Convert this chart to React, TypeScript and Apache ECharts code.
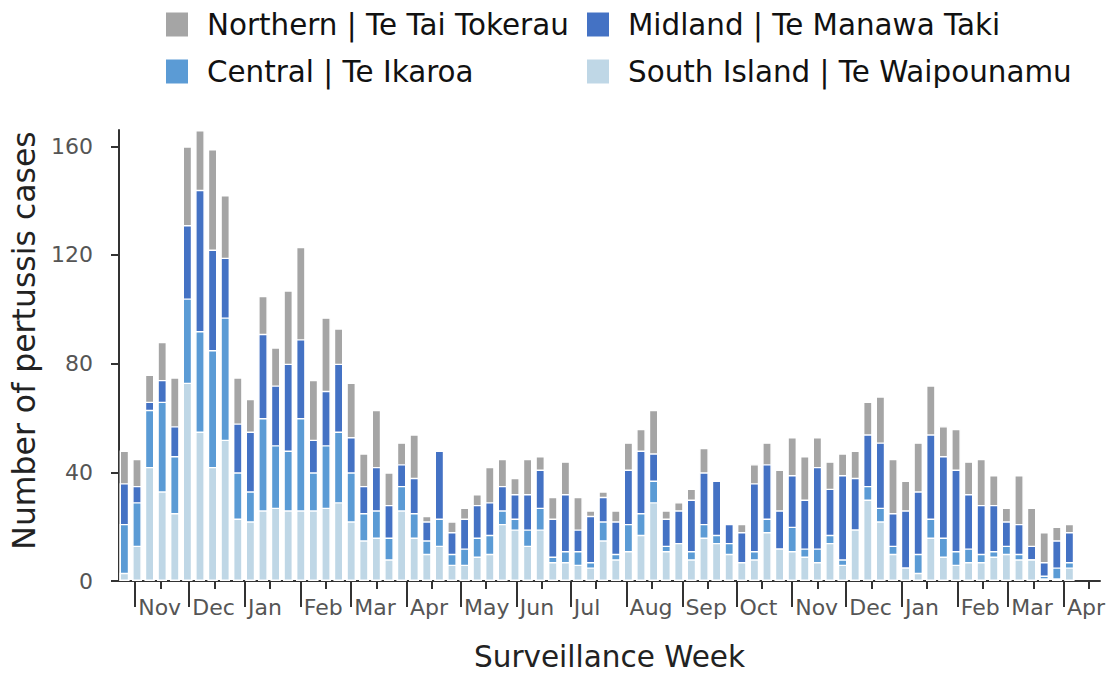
import React, { useEffect, useRef } from "react";
import * as echarts from "echarts";

// Weekly surveillance dates (bar centres)
const weeks: string[] = [
  "2024-10-26", "2024-11-02", "2024-11-09", "2024-11-16", "2024-11-23", "2024-11-30",
  "2024-12-07", "2024-12-14", "2024-12-21", "2024-12-28",
  "2025-01-04", "2025-01-11", "2025-01-18", "2025-01-25",
  "2025-02-01", "2025-02-08", "2025-02-15", "2025-02-22",
  "2025-03-01", "2025-03-08", "2025-03-15", "2025-03-22", "2025-03-29",
  "2025-04-05", "2025-04-12", "2025-04-19", "2025-04-26",
  "2025-05-03", "2025-05-10", "2025-05-17", "2025-05-24", "2025-05-31",
  "2025-06-07", "2025-06-14", "2025-06-21", "2025-06-28",
  "2025-07-05", "2025-07-12", "2025-07-19", "2025-07-26",
  "2025-08-02", "2025-08-09", "2025-08-16", "2025-08-23", "2025-08-30",
  "2025-09-06", "2025-09-13", "2025-09-20", "2025-09-27",
  "2025-10-04", "2025-10-11", "2025-10-18", "2025-10-25",
  "2025-11-01", "2025-11-08", "2025-11-15", "2025-11-22", "2025-11-29",
  "2025-12-06", "2025-12-13", "2025-12-20", "2025-12-27",
  "2026-01-03", "2026-01-10", "2026-01-17", "2026-01-24", "2026-01-31",
  "2026-02-07", "2026-02-14", "2026-02-21", "2026-02-28",
  "2026-03-07", "2026-03-14", "2026-03-21", "2026-03-28",
  "2026-04-04",
];

const southIsland: number[] = [
  3, 13, 42, 33, 25, 73, 55, 42, 52, 23, 22, 26, 27, 26, 26, 26, 27, 29, 22, 15,
  16, 8, 26, 16, 10, 13, 6, 6, 9, 10, 21, 19, 13, 19, 7, 7, 6, 5, 15, 8,
  11, 17, 29, 11, 14, 8, 16, 14, 10, 7, 8, 18, 12, 11, 9, 7, 14, 6, 19, 30,
  22, 10, 5, 3, 16, 9, 6, 7, 7, 9, 10, 8, 8, 1, 1, 5,
];
const central: number[] = [
  18, 16, 21, 33, 21, 31, 37, 43, 45, 17, 11, 34, 23, 22, 34, 14, 23, 26, 18, 10,
  10, 8, 9, 9, 5, 10, 4, 6, 7, 7, 5, 4, 6, 8, 2, 4, 5, 2, 7, 2,
  10, 8, 8, 2, 0, 3, 5, 3, 4, 0, 3, 5, 0, 9, 3, 5, 3, 2, 0, 5,
  5, 3, 0, 7, 7, 7, 5, 5, 3, 2, 3, 2, 0, 1, 4, 2,
];
const midland: number[] = [
  15, 6, 3, 8, 11, 27, 52, 37, 22, 18, 22, 31, 22, 32, 29, 12, 20, 25, 13, 10,
  16, 12, 8, 13, 7, 25, 8, 11, 12, 12, 9, 9, 13, 14, 14, 21, 8, 17, 9, 12,
  20, 23, 10, 10, 12, 19, 19, 20, 7, 11, 25, 20, 14, 19, 18, 30, 17, 31, 19, 19,
  24, 12, 21, 23, 31, 30, 30, 20, 18, 17, 9, 11, 5, 5, 10, 11,
];
const northern: number[] = [
  12, 10, 10, 14, 18, 29, 22, 37, 23, 17, 12, 14, 14, 27, 34, 22, 27, 13, 20, 12,
  21, 12, 8, 16, 2, 0, 4, 4, 4, 13, 10, 6, 13, 5, 8, 12, 12, 2, 2, 4,
  10, 8, 16, 3, 3, 4, 9, 0, 0, 3, 7, 8, 15, 14, 16, 11, 10, 8, 10, 12,
  17, 20, 11, 18, 18, 11, 15, 12, 17, 11, 5, 18, 14, 11, 5, 3,
];

const monthStarts: string[] = [
  "2024-11-01", "2024-12-01", "2025-01-01", "2025-02-01", "2025-03-01", "2025-04-01",
  "2025-05-01", "2025-06-01", "2025-07-01", "2025-08-01", "2025-09-01", "2025-10-01",
  "2025-11-01", "2025-12-01", "2026-01-01", "2026-02-01", "2026-03-01", "2026-04-01",
];
const midMonths: string[] = [
  "2024-11-15", "2024-12-15", "2025-01-15", "2025-02-15", "2025-03-15", "2025-04-15",
  "2025-05-15", "2025-06-15", "2025-07-15", "2025-08-15", "2025-09-15", "2025-10-15",
  "2025-11-15", "2025-12-15", "2026-01-15", "2026-02-15", "2026-03-15", "2026-04-15",
];
const monthNames: string[] = ["Jan", "Feb", "Mar", "Apr", "May", "Jun", "Jul", "Aug", "Sep", "Oct", "Nov", "Dec"];
const yTicks: number[] = [0, 40, 80, 120, 160];

const regionNames = {
  northern: "Northern | Te Tai Tokerau",
  midland: "Midland | Te Manawa Taki",
  central: "Central | Te Ikaroa",
  south: "South Island | Te Waipounamu",
};
const colors = {
  northern: "#a5a5a5",
  midland: "#4472c4",
  central: "#5b9bd5",
  south: "#bfd7e6",
};

function ts(s: string): number {
  const [y, m, d] = s.split("-").map(Number);
  return Date.UTC(y, m - 1, d);
}

const FONT = "DejaVu Sans";

export default function App() {
  const ref = useRef<HTMLDivElement>(null);

  useEffect(() => {
    if (!ref.current) return;
    const chart = echarts.init(ref.current, undefined, { renderer: "svg" });

    // Stack tops (segments drawn back-to-front so each segment shows between stack levels)
    const layers = [southIsland, central, midland, northern];
    const cumulative = (upTo: number) =>
      weeks.map((_, i) => {
        let s = 0;
        for (let k = 0; k <= upTo; k++) s += layers[k][i];
        return s;
      });

    const mk = (name: string, vals: number[], color: string) => ({
      name,
      type: "bar",
      xAxisIndex: 0,
      barWidth: 9.6,
      barGap: "-100%",
      data: vals.map((v, i) => [ts(weeks[i]), v]),
      itemStyle: { color, borderColor: "#ffffff", borderWidth: 1.4 },
      emphasis: { disabled: true },
    });

    const legendText = {
      fontFamily: FONT,
      fontSize: 29.4,
      color: "#111",
      lineHeight: 26,
      padding: [0, 0, 0, 13],
    };

    const xMin = ts("2024-10-23");
    const xMax = ts("2026-04-21");

    chart.setOption({
      animation: false,
      backgroundColor: "#ffffff",
      textStyle: { fontFamily: FONT },
      legend: [
        {
          orient: "vertical",
          left: 159,
          top: 5,
          itemWidth: 24,
          itemHeight: 26,
          itemGap: 18,
          icon: "rect",
          selectedMode: false,
          data: [regionNames.northern, regionNames.central],
          textStyle: legendText,
        },
        {
          orient: "vertical",
          left: 580,
          top: 5,
          itemWidth: 24,
          itemHeight: 26,
          itemGap: 18,
          icon: "rect",
          selectedMode: false,
          data: [regionNames.midland, regionNames.south],
          textStyle: legendText,
        },
      ],
      grid: { left: 119, right: 15, top: 130, bottom: 91.5, containLabel: false },
      xAxis: [
        {
          type: "value",
          min: xMin,
          max: xMax,
          name: "Surveillance Week",
          nameLocation: "middle",
          nameGap: 61,
          nameTextStyle: { fontFamily: FONT, fontSize: 29.5, color: "#222" },
          axisLine: { show: true, lineStyle: { color: "#333", width: 2 } },
          axisTick: {
            show: true,
            length: 26,
            lineStyle: { color: "#333", width: 2 },
            customValues: monthStarts.map(ts),
          },
          axisLabel: {
            show: true,
            customValues: monthStarts.map(ts),
            formatter: (v: number) => monthNames[new Date(v).getUTCMonth()],
            align: "left",
            verticalAlign: "middle",
            margin: 26,
            padding: [0, 0, 0, 3],
            fontFamily: FONT,
            fontSize: 22,
            color: "#555",
          },
          splitLine: { show: false },
        },
        {
          type: "value",
          min: xMin,
          max: xMax,
          position: "bottom",
          offset: 0,
          axisLine: { show: false },
          axisTick: {
            show: true,
            length: 8,
            lineStyle: { color: "#333", width: 2 },
            customValues: midMonths.map(ts),
          },
          axisLabel: { show: false },
          splitLine: { show: false },
        },
      ],
      yAxis: {
        type: "value",
        min: 0,
        max: 166,
        interval: 40,
        name: "Number of pertussis cases",
        nameLocation: "middle",
        nameGap: 70,
        nameTextStyle: { fontFamily: FONT, fontSize: 31.5, color: "#222", padding: [0, 0, 0, 30] },
        axisLine: { show: true, lineStyle: { color: "#333", width: 2 } },
        axisTick: {
          show: true,
          length: 8,
          lineStyle: { color: "#333", width: 2 },
          customValues: yTicks,
        },
        axisLabel: {
          customValues: yTicks,
          margin: 26,
          fontFamily: FONT,
          fontSize: 22,
          color: "#555",
        },
        splitLine: { show: false },
      },
      series: [
        mk(regionNames.northern, cumulative(3), colors.northern),
        mk(regionNames.midland, cumulative(2), colors.midland),
        mk(regionNames.central, cumulative(1), colors.central),
        mk(regionNames.south, cumulative(0), colors.south),
      ],
    });

    return () => chart.dispose();
  }, []);

  return (
    <div
      ref={ref}
      style={{ position: "fixed", left: 0, top: 0, width: 1115, height: 677, background: "#fff" }}
    />
  );
}
